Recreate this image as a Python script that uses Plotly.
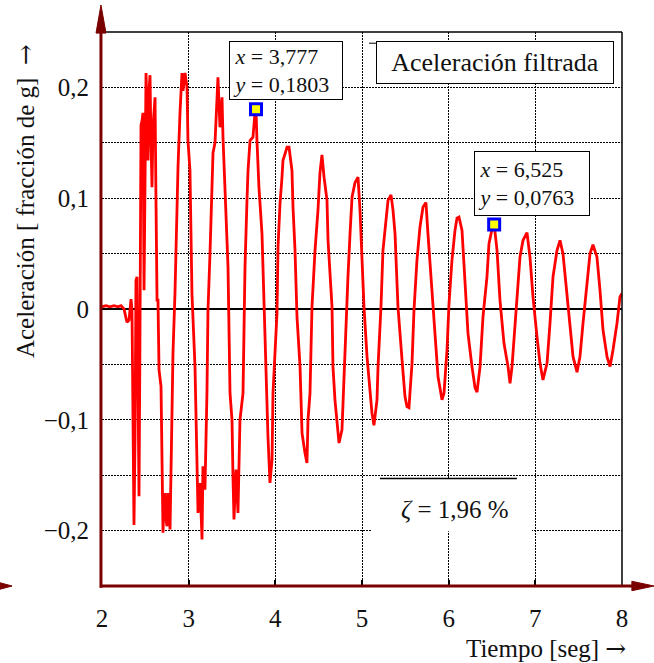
import plotly.graph_objects as go

# ---------------- data ----------------
time_s = [
    2.000, 2.046, 2.092, 2.138, 2.185, 2.219, 2.254, 2.288, 2.312, 2.335,
    2.346, 2.358, 2.369, 2.381, 2.392, 2.404, 2.415, 2.427, 2.438, 2.450,
    2.462, 2.473, 2.485, 2.496, 2.508, 2.519, 2.531, 2.542, 2.554, 2.565,
    2.577, 2.588, 2.600, 2.612, 2.623, 2.635, 2.646, 2.658, 2.681, 2.692,
    2.704, 2.715, 2.727, 2.738, 2.750, 2.762, 2.773, 2.785, 2.808, 2.819,
    2.842, 2.865, 2.877, 2.900, 2.923, 2.935, 2.958, 2.981, 2.992, 3.015,
    3.038, 3.073, 3.096, 3.108, 3.131, 3.154, 3.165, 3.188, 3.211, 3.223,
    3.246, 3.269, 3.281, 3.304, 3.327, 3.338, 3.361, 3.385, 3.396, 3.419,
    3.442, 3.454, 3.477, 3.500, 3.512, 3.523, 3.546, 3.569, 3.592, 3.627,
    3.638, 3.650, 3.673, 3.685, 3.708, 3.742, 3.765, 3.777, 3.788, 3.811,
    3.846, 3.869, 3.892, 3.915, 3.938, 3.962, 3.973, 4.019, 4.031, 4.054,
    4.077, 4.088, 4.135, 4.158, 4.192, 4.204, 4.227, 4.250, 4.285, 4.308,
    4.342, 4.365, 4.377, 4.400, 4.423, 4.458, 4.492, 4.515, 4.538, 4.562,
    4.596, 4.608, 4.654, 4.665, 4.688, 4.723, 4.735, 4.769, 4.781, 4.815,
    4.838, 4.862, 4.885, 4.919, 4.954, 4.977, 5.000, 5.023, 5.058, 5.092,
    5.115, 5.138, 5.173, 5.185, 5.219, 5.242, 5.277, 5.300, 5.335, 5.358,
    5.381, 5.415, 5.462, 5.496, 5.519, 5.542, 5.577, 5.600, 5.634, 5.669,
    5.704, 5.738, 5.761, 5.808, 5.842, 5.877, 5.923, 5.946, 5.981, 6.004,
    6.038, 6.073, 6.096, 6.119, 6.154, 6.188, 6.223, 6.269, 6.304, 6.327,
    6.362, 6.396, 6.442, 6.465, 6.511, 6.525, 6.558, 6.592, 6.638, 6.685,
    6.708, 6.731, 6.765, 6.800, 6.823, 6.858, 6.904, 6.938, 6.973, 7.019,
    7.054, 7.088, 7.135, 7.169, 7.204, 7.250, 7.285, 7.319, 7.365, 7.400,
    7.435, 7.481, 7.515, 7.550, 7.596, 7.631, 7.665, 7.711, 7.746, 7.781,
    7.827, 7.862, 7.896, 7.942, 7.977, 8.000,
]
accel_g = [
    0.002, 0.003, 0.002, 0.003, 0.002, 0.003, 0.000, -0.012, -0.010, 0.009,
    -0.001, -0.100, -0.195, -0.118, 0.026, 0.029, -0.100, -0.169, -0.028, 0.166,
    0.170, 0.177, 0.017, 0.098, 0.213, 0.179, 0.134, 0.197, 0.211, 0.152,
    0.110, 0.164, 0.179, 0.191, 0.098, 0.008, 0.008, -0.055, -0.070, -0.151,
    -0.202, -0.172, -0.166, -0.190, -0.196, -0.166, -0.177, -0.199, -0.088, -0.040,
    0.014, 0.098, 0.128, 0.177, 0.213, 0.197, 0.213, 0.200, 0.152, 0.125,
    0.014, -0.052, -0.124, -0.184, -0.157, -0.208, -0.142, -0.163, -0.076, -0.001,
    0.050, 0.098, 0.141, 0.150, 0.188, 0.209, 0.164, 0.191, 0.155, 0.110,
    0.053, 0.038, -0.076, -0.100, -0.154, -0.190, -0.145, -0.184, -0.100, -0.076,
    -0.022, 0.038, 0.098, 0.125, 0.152, 0.155, 0.177, 0.1803, 0.152, 0.110,
    0.068, 0.008, -0.070, -0.115, -0.157, -0.136, -0.076, -0.004, 0.056, 0.095,
    0.119, 0.134, 0.146, 0.146, 0.125, 0.092, 0.053, -0.007, -0.052, -0.112,
    -0.130, -0.139, -0.100, -0.076, 0.002, 0.053, 0.089, 0.123, 0.139, 0.119,
    0.098, 0.062, 0.002, -0.052, -0.082, -0.112, -0.121, -0.109, -0.082, -0.022,
    0.029, 0.068, 0.101, 0.114, 0.119, 0.089, 0.047, 0.002, -0.043, -0.076,
    -0.094, -0.105, -0.082, -0.052, 0.002, 0.053, 0.080, 0.098, 0.103, 0.089,
    0.068, 0.002, -0.046, -0.079, -0.088, -0.089, -0.049, -0.001, 0.044, 0.074,
    0.092, 0.096, 0.068, 0.017, -0.025, -0.061, -0.082, -0.076, -0.037, 0.005,
    0.044, 0.071, 0.082, 0.083, 0.071, 0.023, -0.022, -0.052, -0.071, -0.075,
    -0.052, -0.007, 0.029, 0.059, 0.076, 0.0763, 0.053, 0.008, -0.031, -0.052,
    -0.067, -0.052, -0.013, 0.023, 0.047, 0.062, 0.069, 0.047, 0.011, -0.025,
    -0.049, -0.064, -0.049, -0.013, 0.029, 0.053, 0.062, 0.050, 0.014, -0.019,
    -0.043, -0.057, -0.043, -0.013, 0.026, 0.050, 0.058, 0.047, 0.017, -0.019,
    -0.043, -0.052, -0.037, -0.013, 0.011, 0.014,
]
cursor_t = [3.777, 6.525]
cursor_a = [0.1803, 0.0763]
cursor_text_x = ["3,777", "6,525"]
cursor_text_y = ["0,1803", "0,0763"]

x_tickvals = [2, 3, 4, 5, 6, 7, 8]
x_ticktext = ["2", "3", "4", "5", "6", "7", "8"]
y_tickvals = [-0.2, -0.15, -0.1, -0.05, 0, 0.05, 0.1, 0.15, 0.2]
y_ticktext = ["\u22120,2", "", "\u22120,1", "", "0", "", "0,1", "", "0,2"]

ARROW = "<span style=\"font-family:'DejaVu Serif'\">\u2192</span>"
legend_label = "Aceleración filtrada"
damping_label = "<i>ζ</i> = 1,96 %"
x_title = "Tiempo [seg] " + ARROW
y_title = "Aceleración [ fracción de g]\u00a0\u00a0" + ARROW

FONT = "Liberation Serif"
MAROON = "#7a0000"

fig = go.Figure()
fig.add_trace(go.Scatter(x=time_s, y=accel_g, mode="lines",
                         line=dict(color="#ff0000", width=2.8), hoverinfo="skip"))
fig.add_trace(go.Scatter(x=cursor_t, y=cursor_a, mode="markers",
                         marker=dict(symbol="square", size=11, color="#ffff00",
                                     line=dict(color="#0000ff", width=3)),
                         hoverinfo="skip"))

fig.update_layout(
    width=654, height=663,
    margin=dict(l=102, r=32, t=32, b=77),
    paper_bgcolor="white", plot_bgcolor="white",
    showlegend=False,
    font=dict(family=FONT, color="#111111", size=24),
)
GRID = dict(showgrid=True, gridcolor="#000000", gridwidth=1.4, griddash="2px,1px")
fig.update_xaxes(range=[2, 8], tickvals=x_tickvals, ticktext=x_ticktext,
                 zeroline=False, showline=False,
                 ticks="inside", ticklen=6, tickwidth=1.5, tickcolor="#000000",
                 tickfont=dict(size=25, family=FONT), ticklabelstandoff=15, **GRID)
fig.update_yaxes(range=[-0.25, 0.25], tickvals=y_tickvals, ticktext=y_ticktext,
                 zeroline=True, zerolinecolor="#000000", zerolinewidth=2,
                 showline=False, ticks="",
                 tickfont=dict(size=25, family=FONT), ticklabelstandoff=12, **GRID)

shapes = [
    # frame top / right
    dict(type="line", xref="paper", yref="paper", x0=0, x1=1, y0=1, y1=1,
         line=dict(color="#000000", width=1.5)),
    dict(type="line", xref="paper", yref="paper", x0=1, x1=1, y0=0, y1=1,
         line=dict(color="#000000", width=1.5)),
    # maroon axes with arrows
    dict(type="line", xref="paper", yref="paper", x0=-0.002, x1=-0.002, y0=-0.003, y1=1.0,
         line=dict(color=MAROON, width=3)),
    dict(type="line", xref="paper", yref="paper", x0=-0.004, x1=1.03, y0=0, y1=0,
         line=dict(color=MAROON, width=3)),
    dict(type="path", xref="paper", yref="paper",
         path="M -0.0115,0.998 L 0.0077,0.998 L -0.002,1.0487 Z",
         fillcolor=MAROON, line=dict(color=MAROON, width=1)),
    dict(type="path", xref="paper", yref="paper",
         path="M 1.019,0.0085 L 1.0615,0 L 1.019,-0.0085 Z",
         fillcolor=MAROON, line=dict(color=MAROON, width=1)),
    dict(type="path", xref="paper", yref="paper",
         path="M -0.196,0.0058 L -0.173,0 L -0.196,-0.0058 Z",
         fillcolor=MAROON, line=dict(color=MAROON, width=1)),
    # white patch behind damping text
    dict(type="rect", xref="x", yref="y", x0=5.104, x1=6.961, y0=-0.2005, y1=-0.1535,
         fillcolor="white", line=dict(width=0), layer="above"),
    dict(type="line", xref="x", yref="y", x0=5.207, x1=6.788, y0=-0.153, y1=-0.153,
         line=dict(color="#000000", width=1.5), layer="above"),
    # thin line on top of the legend box
    dict(type="line", xref="x", yref="y", x0=5.081, x1=7.884, y0=0.2399, y1=0.2399,
         line=dict(color="#000000", width=1), layer="above"),
]
fig.update_layout(shapes=shapes)

annotations = [
    dict(x=3.465, y=0.2423, xref="x", yref="y", xanchor="left", yanchor="top",
         text="\u00a0<i>x</i> = " + cursor_text_x[0] + "<br>\u00a0<i>y</i> = " + cursor_text_y[0],
         showarrow=False, align="left", bgcolor="white", bordercolor="#000000",
         borderwidth=1, borderpad=0, width=112, height=57,
         font=dict(size=22, family=FONT, color="#111111")),
    dict(x=6.292, y=0.1423, xref="x", yref="y", xanchor="left", yanchor="top",
         text="\u00a0<i>x</i> = " + cursor_text_x[1] + "<br>\u00a0<i>y</i> = " + cursor_text_y[1],
         showarrow=False, align="left", bgcolor="white", bordercolor="#000000",
         borderwidth=1, borderpad=0, width=114, height=63,
         font=dict(size=22, family=FONT, color="#111111")),
    dict(x=5.161, y=0.2423, xref="x", yref="y", xanchor="left", yanchor="top",
         text=legend_label, showarrow=False, align="center", bgcolor="white",
         bordercolor="#000000", borderwidth=1, borderpad=0, width=236, height=41,
         font=dict(size=26, family=FONT, color="#111111")),
    dict(x=6.073, y=-0.181, xref="x", yref="y", xanchor="center", yanchor="middle",
         text=damping_label, showarrow=False,
         font=dict(size=25, family=FONT, color="#111111")),
    dict(x=-0.146, y=0.695, xref="paper", yref="paper", xanchor="center", yanchor="middle",
         text=y_title, textangle=-90, showarrow=False,
         font=dict(size=25, family=FONT, color="#111111")),
    dict(x=1.0115, y=-0.112, xref="paper", yref="paper", xanchor="right", yanchor="middle",
         text=x_title, showarrow=False,
         font=dict(size=25, family=FONT, color="#111111")),
]
fig.update_layout(annotations=annotations)

fig.write_html("out.html", config={"displayModeBar": False},
               post_script="document.body.style.margin='0px';document.body.style.overflow='hidden';")
